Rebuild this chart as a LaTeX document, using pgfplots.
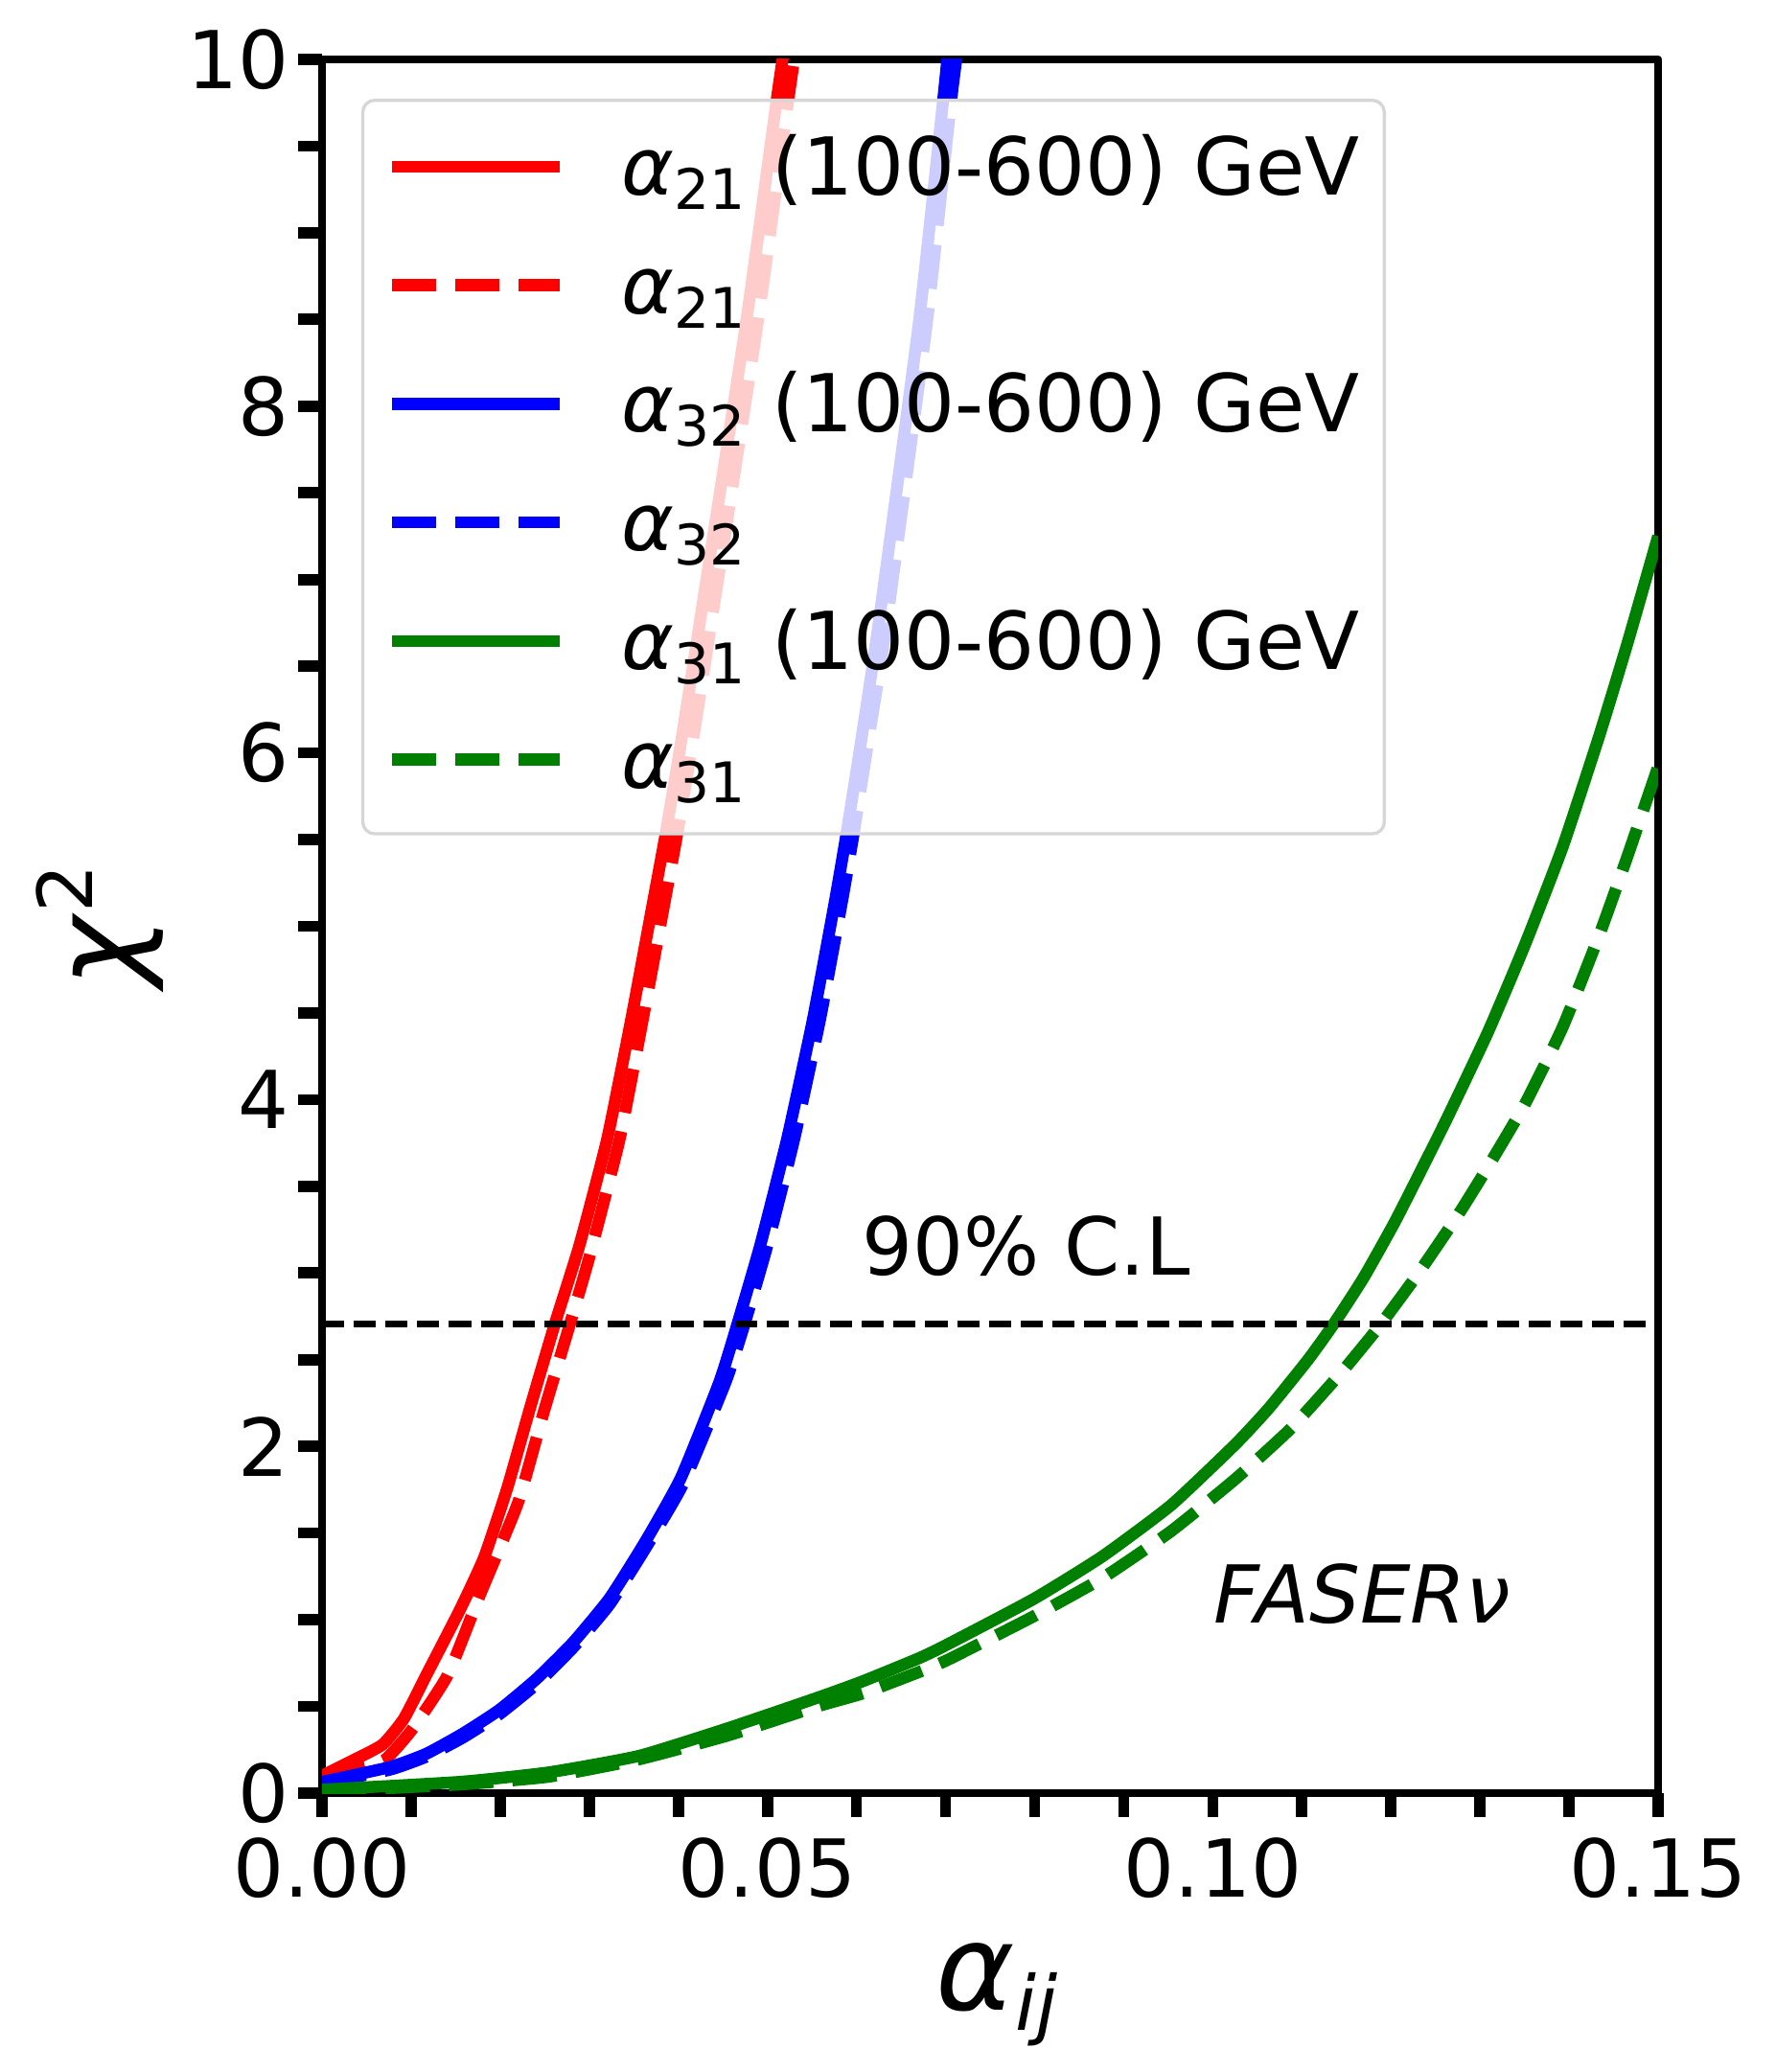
\documentclass[border=0pt]{standalone}
\usepackage{fontspec}
\setmainfont{DejaVu Sans}
\usepackage{pgfplots}
\pgfplotsset{compat=1.18}
\definecolor{mplgreen}{RGB}{0,128,0}
\definecolor{legedge}{RGB}{214,214,214}
\newcommand{\asub}[1]{\textit{α}\raisebox{-3.6pt}{\fontsize{14}{14}\selectfont #1}}
\begin{document}
\begin{tikzpicture}
\useasboundingbox (-80.64pt,-69.84pt) rectangle (363.84pt,449.04pt);
\begin{axis}[
  at={(0pt,0pt)}, anchor=south west,
  scale only axis, width=334.56pt, height=434.16pt,
  xmin=0, xmax=0.15, ymin=0, ymax=10,
  axis line style={line width=2pt},
  tick style={line width=2.8pt, black},
  tick align=outside, tick pos=left,
  major tick length=6pt, minor tick length=6pt,
  xtick={0,0.05,0.1,0.15},
  minor xtick={0.01,0.02,0.03,0.04,0.06,0.07,0.08,0.09,0.11,0.12,0.13,0.14},
  ytick={0,2,4,6,8,10},
  minor ytick={0.5,1,1.5,2.5,3,3.5,4.5,5,5.5,6.5,7,7.5,8.5,9,9.5},
  scaled x ticks=false,
  xticklabel style={/pgf/number format/fixed, /pgf/number format/fixed zerofill, /pgf/number format/precision=2, yshift=-5pt},
  yticklabel style={xshift=-2pt},
  tick label style={font=\fontsize{20}{24}\selectfont, inner sep=0pt},
  /pgf/number format/assume math mode=true,
  xlabel={\fontsize{30}{36}\selectfont\textit{α}\raisebox{-5pt}{\fontsize{19}{19}\selectfont\textit{ij}}},
  xlabel style={at={(axis description cs:0.505,-0.116)}, anchor=center, inner sep=0pt},
  ylabel={\fontsize{30}{36}\selectfont\textit{χ}\raisebox{11.5pt}{\fontsize{19}{19}\selectfont 2}},
  ylabel style={at={(axis description cs:-0.1664,0.5)}, anchor=center, inner sep=0pt},
  legend image code/.code={\draw[#1] (0pt,7.1pt) -- (42pt,7.1pt);},
  legend style={
    at={(rel axis cs:0,1)}, anchor=north west, xshift=9.8pt, yshift=-9.84pt,
    draw=legedge, line width=0.8pt, rounded corners=3pt,
    fill=white, fill opacity=0.8, text opacity=1,
    inner xsep=5.8pt, inner ysep=5pt,
    row sep=4.5pt, column sep=13.9pt,
    font=\fontsize{20}{24}\selectfont,
    cells={anchor=base west},
    nodes={inner sep=0pt, text height=18.7pt, text depth=6.5pt, text width=185.3pt, align=left},
  },
  line join=round,
]
\addplot[red, line width=3pt, smooth, tension=0.3] coordinates {
(0,0.10) (0.0035,0.19) (0.0068,0.28) (0.0092,0.43) (0.0117,0.68) (0.0155,1.06)
(0.0182,1.36) (0.0208,1.76) (0.0234,2.23) (0.0261,2.70) (0.0289,3.16) (0.0320,3.77)
(0.0347,4.46) (0.0372,5.15) (0.0386,5.54) (0.0403,6.06) (0.0424,6.75) (0.0476,8.48)
(0.0510,9.75) (0.0517,10.0) (0.0528,10.4)};
\addlegendentry{\asub{21} (100-600) GeV}
\addplot[red, line width=3pt, dash pattern=on 11.1pt off 4.8pt, smooth, tension=0.3] coordinates {
(0,0.09) (0.0035,0.14) (0.0070,0.19) (0.0100,0.36) (0.0141,0.68) (0.0177,1.14)
(0.0220,1.675) (0.0249,2.20) (0.0278,2.70) (0.0300,3.09) (0.0334,3.77) (0.0360,4.46)
(0.0385,5.15) (0.0399,5.54) (0.0416,6.06) (0.0437,6.75) (0.0489,8.48) (0.0523,9.75)
(0.0530,10.0) (0.0541,10.4)};
\addlegendentry{\asub{21}}
\addplot[blue, line width=3pt, smooth, tension=0.3] coordinates {
(0,0.065) (0.0076,0.15) (0.0117,0.227) (0.0158,0.343) (0.0199,0.48) (0.0241,0.66)
(0.0282,0.87) (0.0323,1.125) (0.0364,1.46) (0.0403,1.82) (0.0446,2.37) (0.0466,2.70)
(0.0492,3.16) (0.0522,3.77) (0.0551,4.46) (0.0576,5.15) (0.0589,5.54) (0.0605,6.06)
(0.0625,6.75) (0.0670,8.48) (0.0697,9.75) (0.0702,10.0) (0.0710,10.4)};
\addlegendentry{\asub{32} (100-600) GeV}
\addplot[blue, line width=3pt, dash pattern=on 11.1pt off 4.8pt, smooth, tension=0.3] coordinates {
(0,0.055) (0.0076,0.135) (0.0117,0.21) (0.0158,0.32) (0.0199,0.455) (0.0241,0.63)
(0.0282,0.84) (0.0323,1.09) (0.0364,1.42) (0.0405,1.78) (0.0453,2.37) (0.0474,2.70)
(0.0500,3.16) (0.0530,3.77) (0.0559,4.46) (0.0584,5.15) (0.0597,5.54) (0.0613,6.06)
(0.0634,6.75) (0.0679,8.48) (0.0706,9.75) (0.0712,10.0) (0.0721,10.4)};
\addlegendentry{\asub{32}}
\addplot[mplgreen, line width=3pt, smooth, tension=0.3] coordinates {
(0,0.02) (0.0155,0.065) (0.0255,0.12) (0.0356,0.215) (0.0456,0.375) (0.0556,0.55)
(0.0607,0.645) (0.0671,0.78) (0.0703,0.86) (0.0799,1.12) (0.0876,1.365) (0.0953,1.66)
(0.1025,2.01) (0.1063,2.22) (0.1107,2.50) (0.1135,2.70) (0.1169,2.97) (0.1206,3.31)
(0.1260,3.86) (0.1309,4.39) (0.1351,4.90) (0.1393,5.46) (0.1434,6.10) (0.1466,6.64)
(0.1500,7.25)};
\addlegendentry{\asub{31} (100-600) GeV}
\addplot[mplgreen, line width=3pt, dash pattern=on 11.1pt off 4.8pt, smooth, tension=0.3] coordinates {
(0,0.01) (0.0155,0.05) (0.0255,0.095) (0.0356,0.195) (0.0456,0.333) (0.0556,0.50)
(0.0607,0.575) (0.0671,0.70) (0.0703,0.77) (0.0799,1.02) (0.0876,1.24) (0.0953,1.51)
(0.1025,1.81) (0.1087,2.10) (0.1145,2.43) (0.1188,2.70) (0.1231,3.00) (0.1276,3.34)
(0.1311,3.63) (0.1351,3.98) (0.1393,4.42) (0.1434,4.95) (0.1466,5.41) (0.1500,5.92)};
\addlegendentry{\asub{31}}
\addplot[black, line width=1.5pt, dash pattern=on 5.55pt off 2.4pt, forget plot] coordinates {(0,2.706) (0.15,2.706)};
\node[anchor=base west, inner sep=0pt, font=\fontsize{20}{24}\selectfont] at (axis cs:0.0605,2.99) {90\% C.L};
\node[anchor=base west, inner sep=0pt, font=\fontsize{20}{24}\selectfont] at (axis cs:0.1000,0.98) {\textit{FASERν}};
\end{axis}
\end{tikzpicture}
\end{document}
